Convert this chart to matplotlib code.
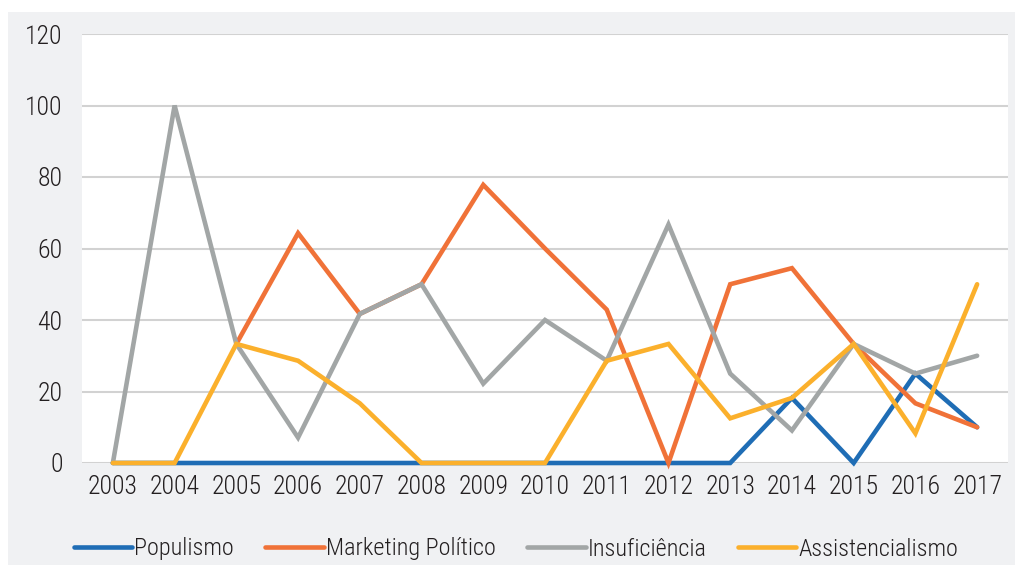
import numpy as np
import matplotlib.pyplot as plt
from matplotlib.patches import Rectangle

plt.rcParams['font.family'] = ['Roboto Condensed', 'Liberation Sans', 'DejaVu Sans']
plt.rcParams['font.weight'] = 'light'

years = [str(y) for y in range(2003, 2018)]
populismo = [0, 0, 0, 0, 0, 0, 0, 0, 0, 0, 0, 18.2, 0, 25, 10]
marketing = [np.nan, np.nan, 33.3, 64.3, 41.7, 50, 77.8, 60, 42.9, 0, 50, 54.5, 33.3, 16.7, 10]
insuficiencia = [0, 100, 33.3, 7.1, 41.7, 50, 22.2, 40, 28.6, 66.7, 25, 9.1, 33.3, 25, 30]
assistencialismo = [0, 0, 33.3, 28.6, 16.7, 0, 0, 0, 28.6, 33.3, 12.5, 18.2, 33.3, 8.3, 50]

series = [
    ("Populismo", populismo, "#1f6db5"),
    ("Marketing Político", marketing, "#f07238"),
    ("Insuficiência", insuficiencia, "#a2a6a6"),
    ("Assistencialismo", assistencialismo, "#fbb02c"),
]

W, H = 1015, 565
fig = plt.figure(figsize=(W / 100, H / 100), dpi=100, facecolor="white")
fig.patches.append(Rectangle((8 / W, 0), (W - 8) / W, (H - 12) / H,
                             transform=fig.transFigure, facecolor="#f0f1f3",
                             edgecolor="none", zorder=-5))

ax = fig.add_axes([82 / W, (H - 463) / H, 926 / W, (463 - 34) / H])
ax.set_facecolor("white")
ax.set_zorder(2)

x = np.arange(len(years))
for name, vals, color in series:
    ax.plot(x, vals, color=color, lw=3.3, label=name, clip_on=False,
            solid_capstyle="round", solid_joinstyle="miter", zorder=3)

ax.set_xlim(-0.5, len(years) - 0.5)
ax.set_ylim(0, 120)
ax.set_yticks(range(0, 121, 20))
ax.set_xticks(x)
ax.set_xticklabels(years)
ax.tick_params(length=0, labelsize=18.5, colors="#231f20", pad=9)
ax.tick_params(axis="y", pad=14)
ax.grid(axis="y", color="#d2d2d2", lw=1.5, zorder=1)
ax.set_axisbelow(True)
for s in ax.spines.values():
    s.set_visible(False)

leg = fig.legend(loc="center", bbox_to_anchor=(516 / W, 1 - 549 / H), ncol=4,
                 frameon=False, fontsize=17.5, handlelength=2.4, handletextpad=0.08,
                 columnspacing=1.3, labelcolor="#231f20")
for line in leg.get_lines():
    line.set_linewidth(3.3)
    line.set_solid_capstyle("round")

fig.savefig("out.png", dpi=100)
